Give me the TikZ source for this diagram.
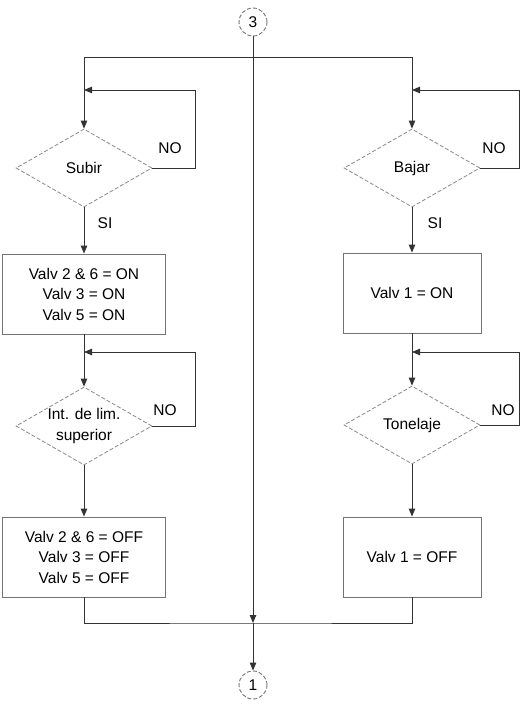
\documentclass[tikz,border=0pt]{standalone}
\usepackage{fontspec}
\setmainfont{Liberation Sans}
\usetikzlibrary{shapes.geometric,arrows.meta}
\begin{document}
\begin{tikzpicture}[x=1pt,y=-1pt,
  font=\fontsize{15.5}{20.5}\selectfont,
  line/.style={draw=black!80, line width=0.9pt},
  arr/.style={line, -{Triangle[length=8pt,width=6.5pt]}},
  procbox/.style={rectangle, draw=black!55, line width=0.9pt, minimum height=80pt, align=center, inner sep=0pt},
  decision/.style={diamond, draw=black!45, dash pattern=on 4pt off 2pt, line width=0.8pt, minimum width=136pt, minimum height=78pt, inner sep=0pt},
  conn/.style={circle, draw=black!55, dash pattern=on 4pt off 2pt, line width=0.9pt, minimum size=28pt, inner sep=0pt},
  lbl/.style={inner sep=0pt}
]
\useasboundingbox (0,0) rectangle (524,704);
\fill[white] (0,0) rectangle (524,704);

% connectors
\node[conn] (c3) at (253,22) {3};
\node[conn] (c1) at (253,685) {1};

% left column
\node[decision, label={center:Subir}] (d1) at (84,168) {};
\node[procbox, minimum width=163pt] (b1) at (84,294) {Valv 2 \& 6 = ON\\Valv 3 = ON\\Valv 5 = ON};
\node[decision, label={[align=center]center:Int. de lim.\\superior}] (d2) at (84,426) {};
\node[procbox, minimum width=163pt] (b2) at (84,557) {Valv 2 \& 6 = OFF\\Valv 3 = OFF\\Valv 5 = OFF};

% right column
\node[decision, label={center:Bajar}] (d3) at (412,168) {};
\node[procbox, minimum width=138pt] (b3) at (412,293) {Valv 1 = ON};
\node[decision, label={center:Tonelaje}] (d4) at (412,425) {};
\node[procbox, minimum width=138pt] (b4) at (412,557) {Valv 1 = OFF};

% labels
\node[lbl] (no1) at (170,148) {NO};
\node[lbl] (si1) at (105,223) {SI};
\node[lbl] (no2) at (165,410) {NO};
\node[lbl] (no3) at (494,148) {NO};
\node[lbl] (si3) at (435,223) {SI};
\node[lbl] (no4) at (503,410) {NO};

% helper coordinates
\coordinate (tl) at (84,57);
\coordinate (tr) at (412,57);
\coordinate (bm) at (253,623);
\coordinate (n1) at (195,90);
\coordinate (n2) at (195,352);
\coordinate (n3) at (519,90);
\coordinate (n4) at (519,352);

% top distribution
\draw[line] (tl) -- (tr);
\draw[arr] (tl) -- (d1.north);
\draw[arr] (tr) -- (d3.north);
\draw[arr] (c3.south) -- (bm);
\draw[arr] (bm) -- (c1.north);

% left flow
\draw[arr] (d1.south) -- (b1.north);
\draw[arr] (b1.south) -- (d2.north);
\draw[arr] (d2.south) -- (b2.north);
\draw[arr] (d1.east) -| (n1) -- (n1 -| tl);
\draw[arr] (d2.east) -| (n2) -- (n2 -| d2.north);

% right flow
\draw[arr] (d3.south) -- (b3.north);
\draw[arr] (b3.south) -- (d4.north);
\draw[arr] (d4.south) -- (b4.north);
\draw[arr] (d3.east) -| (n3) -- (n3 -| tr);
\draw[arr] (d4.east) -| (n4) -- (n4 -| d4.north);

% merge
\draw[line] (b2.south) |- (bm) -| (b4.south);
\end{tikzpicture}
\end{document}
